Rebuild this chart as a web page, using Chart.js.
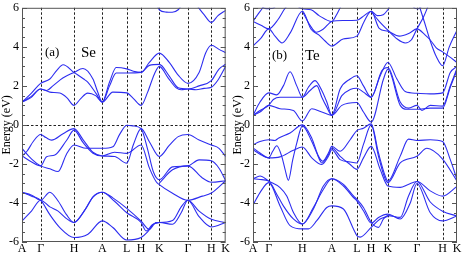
<!DOCTYPE html>
<html>
<head>
<meta charset="utf-8">
<script src="https://cdn.jsdelivr.net/npm/chart.js@4"></script>
<style>
  body { margin: 0; background: #fff; }
  #wrap { position: relative; width: 463px; height: 254px; }
  canvas { position: absolute; top: 0; }
</style>
</head>
<body>
<div id="wrap">
  <canvas id="se" width="231" height="254" style="left:0"></canvas>
  <canvas id="te" width="232" height="254" style="left:231px"></canvas>
</div>
<script>
// k-path positions of the high-symmetry points and their labels
const kLabels = ["A", "Γ", "H", "A", "L", "H", "K", "Γ", "H", "K"];
const seTicks = [0, 18.7, 52.3, 80.7, 105.3, 119.7, 138, 166.7, 190.3, 204.7];
const teTicks = [0, 15.7, 49.3, 78.7, 103.7, 118, 134.7, 163.7, 189.3, 203.7];
const energyTicks = [-6, -4, -2, 0, 2, 4, 6];

// Se bands  [k, E(eV)]
const seCond1 = [[0,1.17],[9,1.6],[18.7,2.13],[28,2.35],[35,2.8],[41.3,3.08],[52.3,2.69],[62,2.35],[66.3,2.18],[74.7,1.59],[80.7,1.17],[88,2.2],[94.7,2.94],[105.3,2.87],[112,2.75],[119.7,2.69],[128,3.2],[138,3.68],[148,3.2],[157,2.55],[166.7,2.13],[178,2.69],[184.7,3.7],[190.3,4.08],[198,3.87],[204.7,3.7]];
const seCond2 = [[0,1.17],[9,1.45],[18.7,1.84],[24.7,1.76],[31,2.0],[41,2.4],[52.3,2.69],[61.3,2.89],[71.3,2.35],[76,1.7],[80.7,1.17],[88,2.0],[94.7,2.66],[105.3,2.66],[119.7,2.69],[128,3.05],[138,3.1],[148,2.5],[157,1.9],[166.7,1.84],[178,2.0],[190.3,2.27],[198,2.86],[204.7,3.11]];
const seCond3 = [[0,1.17],[9,1.4],[18.7,1.84],[28,1.68],[38,1.63],[45,1.4],[52.3,1.0],[59,1.35],[66,1.63],[74,1.5],[80.7,1.17],[91.3,1.68],[105.3,1.64],[112,1.35],[119.7,1.0],[126.3,1.68],[133,2.6],[138,3.0],[147,2.4],[155,1.9],[160,1.8],[166.7,1.84],[175,1.8],[183,1.87],[190.3,1.93],[197,2.3],[204.7,3.0]];
const seCond4 = [[136,6.1],[138,5.9],[145,5.78],[151,5.77],[157,5.9],[160,6.1]];
const seCond5 = [[176,6.1],[183,5.65],[190.3,5.25],[197,5.6],[204.7,5.87]];
const seVal1 = [[0,-1.59],[5,-1.35],[11.3,-0.85],[18.7,-0.49],[24,-0.65],[29.7,-0.78],[41.3,-0.45],[52.3,-0.19],[61.3,-0.75],[71.3,-1.4],[80.7,-1.59],[93,-1.62],[105.3,-1.96],[112,-1.0],[119.7,-0.19],[128,-0.86],[138,-1.62],[148,-1.05],[157,-0.6],[166.7,-0.49],[178,-0.78],[190.3,-1.03],[198,-1.2],[204.7,-1.62]];
const seVal2 = [[0,-1.2],[9.7,-1.75],[18.7,-2.1],[28,-2.25],[36.3,-2.39],[44.7,-1.5],[52.3,-1.03],[64.7,-1.2],[80.7,-1.2],[91.3,-1.12],[98,-0.5],[105.3,-0.02],[111.3,-0.05],[119.7,-0.19],[126,-1.2],[132,-2.4],[138,-2.81],[151.3,-2.15],[166.7,-2.1],[178,-1.79],[190.3,-1.84],[198,-2.22],[204.7,-2.86]];
const seVal3 = [[0,-1.59],[9.7,-1.9],[18.7,-2.1],[24.7,-1.63],[33,-1.54],[44.7,-0.8],[52.3,-0.27],[61.3,-0.9],[71.3,-1.45],[80.7,-1.59],[93,-1.4],[105.3,-1.46],[119.7,-1.03],[128,-2.2],[134.7,-2.9],[138,-3.06],[151.3,-3.5],[166.7,-3.86],[181.3,-3.65],[190.3,-3.49],[204.7,-2.86]];
const seVal4 = [[138,-2.98],[151.3,-2.3],[166.7,-2.1],[181.3,-2.72],[190.3,-2.94],[204.7,-2.86]];
const seLow1 = [[0,-3.45],[9.7,-3.6],[18.7,-3.86],[28,-3.45],[36.3,-3.9],[44.7,-4.6],[52.3,-5.0],[61.3,-4.5],[71.3,-3.7],[80.7,-3.45],[91.3,-3.74],[105.3,-4.28],[119.7,-4.93],[128,-5.35],[134.7,-5.0],[138,-5.0],[151.3,-4.9],[160,-4.2],[166.7,-3.86],[178,-4.42],[190.3,-4.84],[204.7,-5.0]];
const seLow2 = [[0,-4.92],[9.7,-4.4],[18.7,-3.86],[28,-4.2],[36.3,-4.42],[44.7,-4.8],[52.3,-5.0],[64,-4.3],[72,-3.65],[80.7,-3.45],[93,-3.91],[105.3,-4.5],[119.7,-5.0],[124.7,-5.43],[131.3,-5.1],[138,-5.0],[151.3,-5.09],[160,-4.5],[166.7,-3.86],[178,-4.7],[190.3,-5.23],[204.7,-5.0]];
const seLow3 = [[0,-3.45],[9.7,-3.65],[18.7,-3.86],[28,-4.6],[38,-5.26],[52.3,-5.77],[66.3,-5.6],[80.7,-4.92],[91.3,-5.26],[105.3,-5.9],[119.7,-5.77],[126,-5.5],[132,-5.1],[138,-5.0]];

// Te bands  [k, E(eV)]
const teCond1 = [[0,0.49],[7,1.17],[15.7,1.64],[23.7,1.54],[30.3,2.0],[37,2.72],[43.7,2.0],[49.3,1.42],[55.3,1.93],[62,2.27],[68.7,1.76],[73.7,1.17],[78.7,0.49],[87,1.84],[97,2.35],[103.7,2.52],[110.3,2.0],[118,1.42],[127,2.52],[134.7,3.2],[143.7,2.35],[152,1.71],[163.7,1.62],[177,1.59],[189.3,1.64],[197,2.69],[203.7,3.0]];
const teCond2 = [[0,0.49],[7,0.74],[15.7,1.0],[20.3,1.3],[27,1.42],[37,1.42],[49.3,1.42],[57,1.76],[63.7,2.01],[68.7,1.42],[73.7,0.91],[78.7,0.49],[88.7,1.5],[97,1.81],[103.7,1.88],[110.3,1.68],[118,1.42],[128.7,2.78],[134.7,2.94],[147,1.17],[155.3,0.86],[163.7,1.0],[168.7,0.74],[177,1.0],[189.3,0.96],[197,2.0],[203.7,2.9]];
const teCond3 = [[0,0.49],[7,0.66],[15.7,1.0],[27,0.83],[40.3,0.74],[49.3,0.2],[58.7,0.83],[68.7,0.66],[78.7,0.49],[88.7,1.0],[103.7,1.15],[110.3,0.66],[118,0.15],[130.3,2.35],[134.7,2.86],[147,1.0],[153.7,0.8],[163.7,0.8],[177,0.86],[189.3,0.86],[197,1.93],[203.7,2.81]];
const teUp1 = [[0,4.04],[8,4.45],[15.7,4.92],[22,4.55],[29,4.2],[37,4.7],[49.3,5.82],[58,4.9],[66,4.6],[72,4.3],[78.7,4.04],[90,4.4],[103.7,4.55],[111,5.3],[118,5.82],[126,4.95],[134.7,4.8],[146,4.55],[156,4.7],[163.7,4.92],[172,4.6],[177,4.35],[183,3.95],[189.3,3.74],[196,3.5],[203.7,3.2]];
const teUp2 = [[0,5.3],[8,5.1],[15.7,4.92],[25,5.4],[31,5.9],[34,6.1]];
const teUp3 = [[0,5.3],[4,5.6],[9,5.95],[11,6.1]];
const teUp4 = [[8,6.1],[12,5.97],[15.7,5.96],[20,5.98],[23,6.1]];
const teUp5 = [[49.3,5.82],[57,5.1],[63,4.75],[70,4.9],[78.7,5.3],[90,5.35],[103.7,5.36],[111,5.6],[118,5.82],[124,5.6],[130,5.65],[134.7,5.9],[137,6.1]];
const teUp6 = [[44,6.1],[49.3,5.95],[58,5.9],[66,5.6],[78.7,5.3],[84,5.7],[88,6.1]];
const teUp7 = [[118,5.82],[126,5.3],[134.7,4.85],[144,4.4],[152,4.2],[158,4.35],[163.7,4.92],[170,5.5],[175,6.1]];
const teUp8 = [[159,6.1],[162,5.97],[163.7,5.95],[166,5.97],[169,6.1]];
const teUp9 = [[166,6.1],[171,5.3],[177,4.3],[183,3.5],[189.3,3.03],[196,4.0],[203.7,4.85]];
const teVal1 = [[0,-1.02],[7,-0.85],[15.7,-0.76],[22,-0.8],[25.3,-0.68],[37,-0.42],[49.3,0.0],[58.7,-0.68],[65.3,-1.6],[69.7,-1.86],[75.3,-1.44],[78.7,-1.1],[87,-1.35],[97,-0.76],[103.7,-0.29],[110.3,-0.17],[118,0.05],[125.3,-1.44],[132,-2.62],[134.7,-2.88],[147,-1.6],[155.3,-0.73],[163.7,-0.8],[177,-0.76],[189.3,-0.85],[197,-1.78],[203.7,-2.8]];
const teVal2 = [[0,-1.18],[7,-1.44],[15.7,-1.69],[19.7,-1.35],[23.7,-1.07],[28.7,-1.61],[32,-2.28],[35.3,-2.84],[39.7,-1.78],[43.7,-0.93],[49.3,-0.05],[58.7,-0.85],[63.7,-1.44],[68.7,-1.95],[75.3,-1.52],[78.7,-1.18],[87,-1.61],[97,-2.03],[103.7,-2.28],[110.3,-1.69],[118,-1.1],[127,-2.28],[134.7,-3.13],[147,-3.2],[155,-3.05],[163.7,-2.9],[177,-3.38],[189.3,-3.65],[203.7,-3.15]];
const teVal3 = [[0,-1.27],[7,-1.5],[15.7,-1.69],[27,-1.64],[40.3,-1.3],[49.3,-1.13],[58.7,-1.69],[68.7,-2.03],[75.3,-1.61],[78.7,-1.27],[87,-1.78],[97,-1.9],[103.7,-1.95],[110.3,-1.0],[118,0.0],[125.3,-1.61],[134.7,-2.96],[147,-1.95],[163.7,-1.61],[173.7,-1.2],[189.3,-1.75],[203.7,-2.88]];
const teLow1 = [[0,-2.76],[7,-2.62],[15.7,-2.88],[27,-3.21],[33.7,-3.64],[40.3,-4.48],[49.3,-5.08],[60.3,-4.31],[70.3,-3.13],[78.7,-2.76],[90.3,-3.05],[100.3,-3.64],[103.7,-3.81],[110.3,-4.23],[118,-4.99],[125.3,-5.25],[130.3,-4.82],[134.7,-4.65],[147,-4.74],[155.3,-3.64],[163.7,-2.9],[177,-3.95],[189.3,-4.42],[203.7,-4.67]];
const teLow2 = [[0,-2.76],[7,-2.8],[15.7,-2.88],[23.7,-3.55],[30.3,-4.15],[40.3,-4.82],[49.3,-5.08],[60.3,-4.23],[70.3,-3.3],[78.7,-2.76],[90.3,-3.13],[100.3,-3.72],[103.7,-3.89],[110.3,-4.4],[118,-5.03],[125.3,-4.74],[134.7,-4.57],[147,-4.82],[157,-4.0],[163.7,-3.0],[177,-4.5],[189.3,-4.92],[203.7,-4.67]];
const teLow3 = [[0,-4.11],[7,-3.47],[15.7,-2.96],[27,-4.15],[37,-5.16],[49.3,-5.33],[55.3,-5.33],[63.7,-4.91],[73.7,-4.23],[78.7,-4.15],[90.3,-4.31],[100.3,-5.33],[103.7,-5.67],[107,-5.75],[118,-5.25],[127,-4.82],[134.7,-4.69]];

const seBands = [seCond1, seCond2, seCond3, seCond4, seCond5, seVal1, seVal2, seVal3, seVal4, seLow1, seLow2, seLow3];
const teBands = [teCond1, teCond2, teCond3, teUp1, teUp2, teUp3, teUp4, teUp5, teUp6, teUp7, teUp8, teUp9,
                 teVal1, teVal2, teVal3, teLow1, teLow2, teLow3];

const serif = '"Liberation Serif", "DejaVu Serif", serif';

// dashed guide lines, frame with inward ticks, panel captions
const decor = {
  id: "decor",
  beforeDatasetsDraw(chart, args, opts) {
    const { ctx, chartArea: a, scales: { x, y } } = chart;
    ctx.save();
    ctx.strokeStyle = "#222";
    ctx.lineWidth = 1;
    ctx.setLineDash([2.5, 2]);
    ctx.beginPath();
    opts.ticks.slice(1, -1).forEach(k => {
      const px = Math.round(x.getPixelForValue(k)) + 0.5;
      ctx.moveTo(px, a.top);
      ctx.lineTo(px, a.bottom);
    });
    const py = Math.round(y.getPixelForValue(0)) + 0.5;
    ctx.moveTo(a.left, py);
    ctx.lineTo(a.right, py);
    ctx.stroke();
    ctx.restore();
  },
  afterDatasetsDraw(chart, args, opts) {
    const { ctx, chartArea: a, scales: { x, y } } = chart;
    ctx.save();
    ctx.strokeStyle = "#555";
    ctx.lineWidth = 1;
    ctx.strokeRect(a.left + 0.5, a.top + 0.5, a.right - a.left - 1, a.bottom - a.top - 1);
    ctx.beginPath();
    for (let e = -6; e <= 6; e += 0.5) {
      const py = Math.round(y.getPixelForValue(e)) + 0.5;
      const len = e % 2 === 0 ? 5 : 3;
      ctx.moveTo(a.left, py); ctx.lineTo(a.left + len, py);
      ctx.moveTo(a.right, py); ctx.lineTo(a.right - len, py);
    }
    ctx.stroke();
    ctx.fillStyle = "#000";
    ctx.textBaseline = "alphabetic";
    ctx.font = "13px " + serif;
    ctx.fillText(opts.tag, a.left + opts.tagPos[0], a.top + opts.tagPos[1]);
    ctx.font = "15px " + serif;
    ctx.fillText(opts.name, a.left + opts.namePos[0], a.top + opts.namePos[1]);
    ctx.restore();
  }
};

function makeChart(id, bands, kTicks, deco, padRight) {
  new Chart(document.getElementById(id), {
    type: "scatter",
    data: {
      datasets: bands.map(b => ({
        data: b.map(p => ({ x: p[0], y: p[1] })),
        showLine: true,
        borderColor: "rgb(45,45,240)",
        borderWidth: 1.1,
        pointRadius: 0,
        cubicInterpolationMode: "monotone",
        clip: 0
      }))
    },
    options: {
      responsive: false,
      animation: false,
      devicePixelRatio: 1,
      layout: { padding: { top: 5, right: padRight, bottom: 0, left: 0 } },
      plugins: {
        legend: { display: false },
        tooltip: { enabled: false },
        decor: deco
      },
      scales: {
        x: {
          type: "linear",
          min: kTicks[0],
          max: kTicks[kTicks.length - 1],
          afterBuildTicks: s => { s.ticks = kTicks.map(v => ({ value: v })); },
          afterFit: s => { s.height = 12; },
          grid: { display: false, drawTicks: false },
          border: { display: false },
          ticks: {
            autoSkip: false,
            maxRotation: 0,
            padding: 1,
            color: "#000",
            font: { family: serif, size: 12, lineHeight: 1 },
            callback: (v, i) => kLabels[i]
          }
        },
        y: {
          min: -6,
          max: 6,
          afterBuildTicks: s => { s.ticks = energyTicks.map(v => ({ value: v })); },
          afterFit: s => { s.width = 22; },
          grid: { display: false, drawTicks: false },
          border: { display: false },
          title: {
            display: true,
            text: "Energy (eV)",
            color: "#000",
            padding: 0,
            font: { family: serif, size: 12 }
          },
          ticks: {
            padding: 3,
            color: "#000",
            font: { family: serif, size: 12, lineHeight: 0.8 }
          }
        }
      }
    },
    plugins: [decor]
  });
}

makeChart("se", seBands, seTicks, { ticks: seTicks, tag: "(a)", name: "Se", tagPos: [23, 48], namePos: [59, 49] }, 4);
makeChart("te", teBands, teTicks, { ticks: teTicks, tag: "(b)", name: "Te", tagPos: [19, 51], namePos: [52, 52] }, 6);
</script>
</body>
</html>
